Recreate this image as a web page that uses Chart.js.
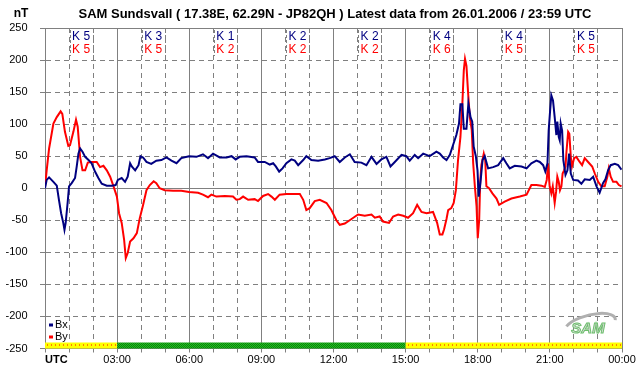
<!DOCTYPE html>
<html><head><meta charset="utf-8">
<script src="https://cdn.jsdelivr.net/npm/chart.js@4.4.1/dist/chart.umd.min.js"></script>
<style>html,body{margin:0;padding:0;background:#fff;}canvas{display:block;}</style>
</head><body>
<canvas id="c" width="642" height="376"></canvas>
<script>
const FONT = '"Liberation Sans", Arial, sans-serif';
const titleText = 'SAM Sundsvall ( 17.38E, 62.29N - JP82QH ) Latest data from 26.01.2006 / 23:59 UTC';
const unitLabel = 'nT';
const hourTicks = [0,1,2,3,4,5,6,7,8,9,10,11,12,13,14,15,16,17,18,19,20,21,22,23,24];
const hourLabels = ['UTC','','','03:00','','','06:00','','','09:00','','','12:00','','','15:00','','','18:00','','','21:00','','','00:00'];
const valueTicks = [-250,-200,-150,-100,-50,0,50,100,150,200,250];
const seriesNames = ['Bx','By'];
const kBx = [5,3,1,2,2,4,4,5];
const kBy = [5,5,2,2,2,6,5,5];
const statusStart = [0,3,15];
const statusEnd = [3,15,24];
const statusKind = ['yellow','green','yellow'];

const bxHours = [0,0.07,0.17,0.35,0.49,0.58,0.67,0.76,0.81,0.86,0.94,1.0,1.11,1.25,1.32,1.39,1.46,1.56,1.67,1.81,1.94,2.08,2.22,2.36,2.57,2.78,2.94,3.03,3.19,3.33,3.44,3.54,3.61,3.75,3.89,3.97,4.08,4.22,4.42,4.63,4.84,5.05,5.26,5.47,5.67,5.99,6.3,6.57,6.78,6.99,7.27,7.55,7.76,7.93,8.1,8.38,8.72,8.86,9.14,9.35,9.49,9.6,9.74,9.88,10.04,10.25,10.39,10.53,10.74,10.87,11.08,11.36,11.64,11.84,12.05,12.26,12.47,12.68,12.88,13.16,13.37,13.58,13.79,13.99,14.2,14.37,14.55,14.83,15.03,15.17,15.38,15.52,15.73,16.0,16.28,16.42,16.56,16.7,16.84,16.97,17.11,17.22,17.28,17.36,17.42,17.53,17.61,17.7,17.77,17.83,17.92,17.99,18.04,18.11,18.2,18.29,18.43,18.64,18.85,19.06,19.19,19.33,19.54,19.82,20.03,20.23,20.44,20.58,20.72,20.81,20.9,20.95,21.01,21.06,21.13,21.2,21.27,21.31,21.37,21.41,21.45,21.51,21.56,21.65,21.73,21.8,21.87,21.97,22.17,22.31,22.45,22.66,22.8,22.94,23.07,23.21,23.31,23.42,23.53,23.7,23.84,23.98];
const bxValues = [0,13,17,10,4,-18,-39,-54,-65,-54,-23,3,8,16,34,54,62,57,49,44,39,26,16,7,4,4,5,13,16,10,18,39,34,28,36,50,48,41,38,43,44,48,43,39,47,50,49,53,47,54,48,48,50,45,49,50,48,41,41,37,39,34,26,31,39,45,43,36,44,50,44,43,45,47,50,41,48,53,41,40,36,49,38,45,49,34,41,52,50,43,52,47,54,50,57,54,48,44,52,67,83,101,131,131,93,93,132,111,104,65,50,28,-13,8,44,50,31,33,36,47,39,31,35,34,31,39,43,41,36,26,39,90,121,145,137,111,83,104,80,75,101,90,44,21,28,54,23,13,12,7,14,13,18,3,-7,8,14,28,36,38,36,29];

const byHours = [0,0.07,0.17,0.35,0.49,0.65,0.72,0.83,0.97,1.04,1.18,1.29,1.36,1.46,1.56,1.67,1.78,1.94,2.15,2.29,2.43,2.57,2.71,2.85,2.99,3.08,3.19,3.29,3.36,3.44,3.54,3.68,3.82,3.94,4.08,4.22,4.36,4.52,4.63,4.77,4.98,5.33,5.67,5.99,6.37,6.57,6.78,6.92,7.13,7.48,7.82,7.96,8.1,8.24,8.45,8.72,8.86,9.07,9.28,9.42,9.56,9.76,10.04,10.39,10.6,10.74,10.87,11.01,11.22,11.43,11.71,11.91,12.12,12.26,12.47,12.75,13.02,13.3,13.58,13.72,13.92,14.06,14.31,14.48,14.69,14.9,15.1,15.31,15.48,15.66,15.87,16.14,16.31,16.42,16.53,16.6,16.7,16.77,16.9,17.0,17.09,17.18,17.28,17.36,17.42,17.47,17.53,17.6,17.67,17.75,17.81,17.88,17.95,18.0,18.06,18.1,18.15,18.25,18.31,18.36,18.47,18.61,18.78,18.89,19.12,19.4,19.75,20.03,20.23,20.44,20.65,20.79,20.87,20.92,20.99,21.06,21.12,21.2,21.26,21.31,21.37,21.42,21.48,21.53,21.59,21.65,21.69,21.76,21.81,21.87,21.92,22.01,22.1,22.24,22.34,22.45,22.59,22.76,22.87,23.01,23.14,23.28,23.39,23.45,23.53,23.63,23.77,23.87,23.98];
const byValues = [2,28,62,101,111,120,116,88,66,67,88,107,96,49,28,28,40,41,41,33,35,28,18,3,-13,-39,-54,-80,-109,-101,-83,-78,-70,-47,-26,-3,5,11,8,0,-3,-4,-4,-6,-7,-10,-14,-10,-13,-12,-13,-18,-17,-13,-18,-17,-20,-12,-9,-13,-18,-10,-9,-9,-9,-18,-34,-31,-20,-18,-23,-34,-50,-57,-55,-48,-41,-43,-41,-46,-44,-52,-54,-44,-41,-43,-46,-39,-26,-37,-39,-37,-54,-72,-72,-64,-48,-34,-31,-23,-3,44,80,132,184,202,191,148,111,91,39,3,-28,-78,-49,8,36,54,44,3,0,-8,-16,-26,-21,-16,-13,-10,5,5,4,2,13,39,3,-8,3,-23,-5,18,10,-3,3,23,28,34,57,88,85,49,34,47,49,41,36,47,41,34,23,10,3,3,18,31,18,10,10,5,3];

const BLUE = '#000080', RED = '#ff0000', GRID = '#808080';
const toPts = (hs, vs) => hs.map((h, i) => ({x: h, y: vs[i]}));

function makeGreenPattern(ctx) {
  const p = document.createElement('canvas'); p.width = 2; p.height = 2;
  const c = p.getContext('2d');
  c.fillStyle = '#22c022'; c.fillRect(0,0,2,2);
  c.fillStyle = '#0a800a'; c.fillRect(0,0,1,1); c.fillRect(1,1,1,1);
  return ctx.createPattern(p, 'repeat');
}

const decor = {
  id: 'decor',
  afterDraw(chart) {
    const {ctx, chartArea: a, scales: {x, y}} = chart;
    ctx.save();
    // status bar
    const yTop = a.bottom - 6, yBot = a.bottom;
    statusKind.forEach((k, i) => {
      const x1 = x.getPixelForValue(statusStart[i]), x2 = x.getPixelForValue(statusEnd[i]);
      if (k === 'green') { ctx.fillStyle = makeGreenPattern(ctx); ctx.fillRect(x1, yTop, x2 - x1, yBot - yTop); }
      else {
        ctx.fillStyle = '#ffff00'; ctx.fillRect(x1, yTop, x2 - x1, yBot - yTop);
        ctx.fillStyle = '#ff0000';
        for (let px = Math.ceil(x1) + 2; px < x2 - 1; px += 4) ctx.fillRect(px, yTop + 2, 1, 1);
      }
    });
    // title & unit
    ctx.fillStyle = '#000'; ctx.textBaseline = 'middle'; ctx.textAlign = 'center';
    ctx.font = 'bold 13px ' + FONT;
    ctx.fillText(titleText, 335, 14);
    ctx.font = 'bold 12px ' + FONT;
    ctx.fillText(unitLabel, 21, 14);
    // UTC label
    ctx.textAlign = 'left';
    ctx.font = 'bold 11px ' + FONT;
    ctx.fillText(hourLabels[0], x.getPixelForValue(0), 360);
    // K indices
    ctx.font = '12px ' + FONT; ctx.textAlign = 'center';
    kBx.forEach((k, i) => {
      const cx = x.getPixelForValue(i * 3 + 1.5);
      ctx.fillStyle = BLUE; ctx.fillText('K ' + k, cx, a.top + 8.5);
      ctx.fillStyle = RED; ctx.fillText('K ' + kBy[i], cx, a.top + 21.5);
      ctx.strokeStyle = GRID; ctx.lineWidth = 1; ctx.setLineDash([3, 2]);
      [-11.5, 11.5].forEach(d => {
        const xx = Math.round(cx + d) + 0.5;
        ctx.beginPath(); ctx.moveTo(xx, a.top + 2); ctx.lineTo(xx, a.top + 28); ctx.stroke();
      });
      ctx.setLineDash([]);
    });
    // legend
    ctx.font = '11px ' + FONT; ctx.textAlign = 'left';
    [[BLUE, seriesNames[0], 324.5], [RED, seriesNames[1], 336.5]].forEach(([c, t, yy]) => {
      ctx.fillStyle = c; ctx.fillRect(a.left + 4, yy - 1, 4, 3);
      ctx.fillStyle = '#000080'; ctx.fillStyle = '#000'; ctx.fillText(t, a.left + 10, yy);
    });
    // logo
    ctx.save();
    ctx.translate(588, 327);
    ctx.strokeStyle = '#b0b0b0'; ctx.lineWidth = 3;
    ctx.beginPath(); ctx.ellipse(2, -2, 26, 10, -0.25, Math.PI * 1.15, Math.PI * 2.05); ctx.stroke();
    ctx.font = 'italic bold 15px ' + FONT; ctx.textAlign = 'center';
    ctx.fillStyle = '#d8d8d8'; ctx.strokeStyle = '#6cbf6c'; ctx.lineWidth = 1;
    ctx.fillText('SAM', 0, 2); ctx.strokeText('SAM', 0, 2);
    ctx.restore();
    ctx.restore();
  }
};

new Chart(document.getElementById('c'), {
  type: 'line',
  data: {
    datasets: [
      {label: seriesNames[0], data: toPts(bxHours, bxValues), borderColor: BLUE, backgroundColor: BLUE, borderWidth: 2, pointRadius: 0, tension: 0, fill: false},
      {label: seriesNames[1], data: toPts(byHours, byValues), borderColor: RED, backgroundColor: RED, borderWidth: 2, pointRadius: 0, tension: 0, fill: false}
    ]
  },
  options: {
    responsive: false, animation: false, devicePixelRatio: 1,
    layout: {padding: {top: 28, right: 20, left: 0, bottom: 0}},
    plugins: {legend: {display: false}, tooltip: {enabled: false}, title: {display: false}},
    scales: {
      x: {
        type: 'linear', min: 0, max: 24,
        afterBuildTicks: s => { s.ticks = hourTicks.map(v => ({value: v})); },
        afterFit: s => { s.height = 27.5; },
        ticks: {autoSkip: false, maxRotation: 0, minRotation: 0, padding: 1, color: '#000', font: {family: FONT, size: 11},
          callback: (v, i) => i === 0 ? '' : hourLabels[i]},
        grid: {color: GRID, lineWidth: 1, tickLength: 4, drawTicks: true},
        border: {color: GRID, width: 1, dash: c => (c.tick && c.tick.value % 3 !== 0) ? [5, 4] : []}
      },
      y: {
        min: -250, max: 250,
        afterBuildTicks: s => { s.ticks = valueTicks.map(v => ({value: v})); },
        afterFit: s => { s.width = 45; },
        ticks: {padding: 12.5, color: '#000', font: {family: FONT, size: 11}, callback: v => String(v)},
        grid: {color: GRID, lineWidth: 1, tickLength: 5},
        border: {color: GRID, width: 1, dash: c => (c.tick && c.tick.value !== 0 && Math.abs(c.tick.value) !== 250) ? [5, 4] : []}
      }
    }
  },
  plugins: [decor]
});
</script>
</body></html>
